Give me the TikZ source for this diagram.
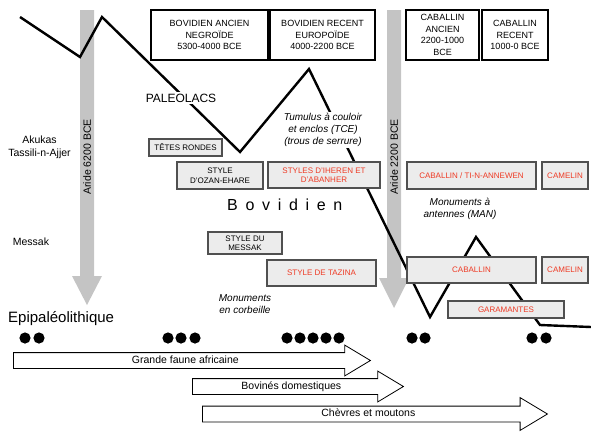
\documentclass[tikz,border=0pt]{standalone}
\usepackage{fontspec}
\setmainfont{Liberation Sans}
\usepackage{tikz}
\usetikzlibrary{shapes.arrows}
\definecolor{rouge}{RGB}{238,58,36}
\definecolor{fondgris}{RGB}{236,236,236}
\definecolor{gristrait}{RGB}{80,80,80}
\definecolor{grisaride}{RGB}{196,196,196}

\begin{document}
\begin{tikzpicture}[x=1pt, y=-1pt,
	periode/.style={draw, line width=1.4pt, fill=white, align=center, inner sep=0pt, font=\fontsize{9}{11.5}\selectfont},
	cadre/.style={draw=gristrait, line width=1.2pt, fill=fondgris, align=center, inner sep=0pt, font=\fontsize{8}{9.5}\selectfont},
	enrouge/.style={text=rouge},
	note/.style={font=\fontsize{10}{12}\selectfont\itshape, align=center},
	lieu/.style={font=\fontsize{10.5}{13}\selectfont, align=center},
	fleche/.style={single arrow, draw, line width=0.8pt, fill=white, single arrow head extend=7.5pt, single arrow tip angle=62, inner xsep=0pt, inner ysep=2.5pt, text height=7.5pt, text depth=2.5pt, font=\fontsize{10.5}{12}\selectfont, anchor=tail}
]
	\useasboundingbox (0,0) rectangle (591,434);
	%\draw [help lines, step=10] (0,0) grid (591,434);
	\fill [grisaride] (80,10) -- (94,10) -- (94,276) -- (102,276) -- (87,305) -- (72,276) -- (80,276) -- cycle;
	\fill [grisaride] (387,10) -- (401,10) -- (401,278) -- (409,278) -- (394,308) -- (379,278) -- (387,278) -- cycle;
	\node [rotate=90, font=\fontsize{10.5}{12}\selectfont] (aride1) at (87,157) {Aride 6200 BCE};
	\node [rotate=90, font=\fontsize{10.5}{12}\selectfont] (aride2) at (394,157) {Aride 2200 BCE};
	\draw [line width=2.4pt] (20,17) -- (80,57) -- (102,17) -- (240,152) -- (309,69) -- (430,317) -- (476,237) -- (540,325) -- (591,327);
	\node [fill=white, inner sep=2pt, font=\fontsize{12}{14}\selectfont] (paleo) at (181,98) {PALEOLACS};
	\node [note, fill=white, inner sep=1pt] (tumulus) at (323,130) {Tumulus à couloir\\et enclos (TCE)\\(trous de serrure)};
	\node [note] (antennes) at (460,208.5) {Monuments à\\antennes (MAN)};
	\node [note] (corbeille) at (245,304) {Monuments\\en corbeille};

	\node [periode, minimum width=117, minimum height=50] (bovanc) at (209.5,35) {BOVIDIEN ANCIEN\\NEGROÏDE\\5300-4000 BCE};
	\node [periode, minimum width=105, minimum height=50] (bovrec) at (322.5,35) {BOVIDIEN RECENT\\EUROPOÏDE\\4000-2200 BCE};
	\node [periode, minimum width=73, minimum height=50] (cabanc) at (442.5,35) {CABALLIN\\ANCIEN\\2200-1000\\BCE};
	\node [periode, minimum width=66, minimum height=50] (cabrec) at (515,35) {CABALLIN\\RECENT\\1000-0 BCE};

	\node [lieu] (akukas) at (39.5,147.5) {Akukas\\Tassili-n-Ajjer};
	\node [lieu] (messak) at (31,242) {Messak};
	\node [font=\fontsize{15}{18}\selectfont, anchor=base west, inner sep=0pt] (epipal) at (8,322.5) {Epipaléolithique};
	\node [font=\fontsize{16}{18}\selectfont\addfontfeature{LetterSpace=48}, anchor=base west, inner sep=0pt] (bovidien) at (227,210) {Bovidien};

	\node [cadre, minimum width=73, minimum height=17] (tetes) at (185.5,147.5) {TÊTES RONDES};
	\node [cadre, minimum width=86, minimum height=27] (ozan) at (220,175.5) {STYLE\\D'OZAN-EHARE};
	\node [cadre, enrouge, minimum width=112, minimum height=26] (iheren) at (324,175) {STYLES D'IHEREN ET\\D'ABANHER};
	\node [cadre, enrouge, minimum width=129, minimum height=27] (annewen) at (471.5,175.5) {CABALLIN / TI-N-ANNEWEN};
	\node [cadre, enrouge, minimum width=46, minimum height=27] (camelin1) at (565,175.5) {CAMELIN};
	\node [cadre, minimum width=74, minimum height=22] (stmessak) at (245,243) {STYLE DU\\MESSAK};
	\node [cadre, enrouge, minimum width=109, minimum height=26] (tazina) at (321.5,273) {STYLE DE TAZINA};
	\node [cadre, enrouge, minimum width=129, minimum height=26] (caballin) at (471.5,270) {CABALLIN};
	\node [cadre, enrouge, minimum width=46, minimum height=26] (camelin2) at (565,270) {CAMELIN};
	\node [cadre, enrouge, minimum width=116, minimum height=17] (garam) at (506,309.5) {GARAMANTES};

	\foreach \x in {25,39,168,181,195,287,300,313,326,339,412,425,532,546}
		\fill (\x,338) circle (5.6);

	\node [fleche, minimum height=357] (faune) at (13,360.5) {Grande faune africaine};
	\node [fleche, minimum height=211] (bovins) at (192,386.5) {Bovinés domestiques};
	\node [fleche, minimum height=345, single arrow head extend=8.5pt] (chevres) at (202,414) {Chèvres et moutons};
\end{tikzpicture}
\end{document}
